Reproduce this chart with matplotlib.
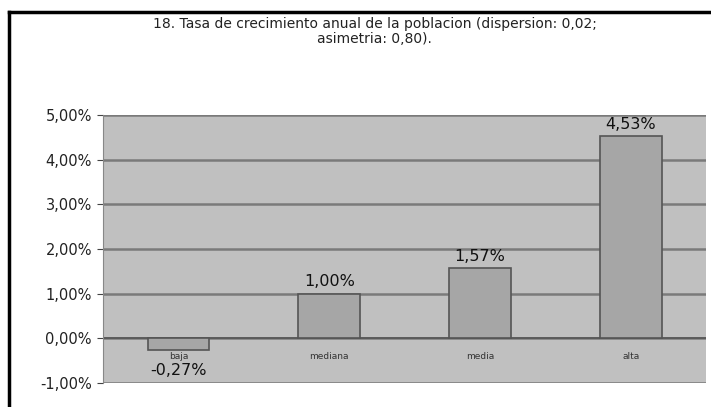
import matplotlib
matplotlib.use("Agg")
import matplotlib.pyplot as plt
from matplotlib.lines import Line2D

plt.rcParams['font.family'] = ['DejaVu Sans']

categories = ["baja", "mediana", "media", "alta"]
values = [-0.27, 1.00, 1.57, 4.53]
value_labels = ["-0,27%", "1,00%", "1,57%", "4,53%"]
yticks = [-1, 0, 1, 2, 3, 4, 5]
ytick_labels = ["-1,00%", "0,00%", "1,00%", "2,00%", "3,00%", "4,00%", "5,00%"]
title = "18. Tasa de crecimiento anual de la poblacion (dispersion: 0,02;\nasimetria: 0,80)."

fig = plt.figure(figsize=(7.11, 4.07), dpi=100)
fig.patch.set_facecolor("white")
ax = fig.add_axes([0.145, 0.059, 0.848, 0.658])
ax.set_facecolor("#c0c0c0")

x = list(range(len(categories)))
ax.bar(x, values, width=0.41, color="#a6a6a6", edgecolor="#555555", linewidth=1.2, zorder=3)
ax.set_xlim(-0.5, len(categories) - 0.5)
ax.set_ylim(-1, 5)
ax.set_yticks(yticks)
ax.set_yticklabels(ytick_labels, fontsize=10.5, color="#222222")
ax.set_xticks([])
ax.yaxis.grid(True, color="#7a7a7a", linewidth=1.8, zorder=1)
ax.axhline(0, color="#555555", linewidth=1.2, zorder=2)
ax.tick_params(axis="y", length=4, color="#444444", pad=4)
for s in ["top", "right", "bottom"]:
    ax.spines[s].set_visible(False)
ax.spines["left"].set_color("#888888")

for xi, v, lab, cat in zip(x, values, value_labels, categories):
    if v < 0:
        ax.text(xi, -0.55, lab, ha="center", va="top", fontsize=11.5, color="#111111", zorder=4)
    else:
        ax.text(xi, v + 0.1, lab, ha="center", va="bottom", fontsize=11.5, color="#111111", zorder=4)
    ax.text(xi, -0.4, cat, ha="center", va="center", fontsize=6.5, color="#333333", zorder=4)

fig.text(0.527, 0.958, title, ha="center", va="top", fontsize=10, color="#222222",
         linespacing=1.1, zorder=5)

# outer frame lines
fig.add_artist(Line2D([0.013, 1.0], [0.97, 0.97], transform=fig.transFigure, color="black", linewidth=2.5))
fig.add_artist(Line2D([0.013, 0.013], [0.0, 0.97], transform=fig.transFigure, color="black", linewidth=2.5))

fig.savefig("out.png", dpi=100)
